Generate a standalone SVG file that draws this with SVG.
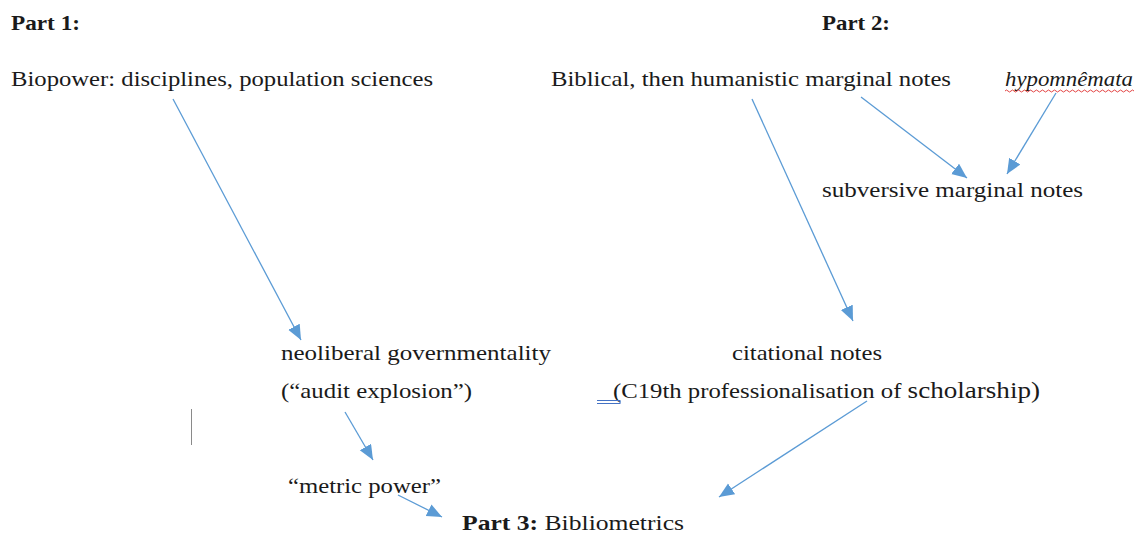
<svg xmlns="http://www.w3.org/2000/svg" width="1139" height="535" viewBox="0 0 1139 535">
<style>
text{font-family:"Liberation Serif","DejaVu Serif",serif;font-size:21px;fill:#1a1a1a}
.b{font-weight:bold}
.i{font-style:italic}
.con{stroke:#5b9bd5;stroke-width:1.3;fill:none}
</style>
<defs>
<marker id="ah" markerUnits="userSpaceOnUse" markerWidth="16" markerHeight="14" refX="15" refY="6.5" orient="auto">
<path d="M0,0 L15,6.5 L0,13 Z" fill="#5b9bd5"/>
</marker>
</defs>
<rect width="1139" height="535" fill="#ffffff"/>
<g id="part1"><text class="b" x="11" y="30" textLength="69" lengthAdjust="spacingAndGlyphs">Part 1:</text></g>
<g id="part2"><text class="b" x="822" y="30" textLength="68" lengthAdjust="spacingAndGlyphs">Part 2:</text></g>
<g id="biopower"><text x="11" y="86" textLength="422" lengthAdjust="spacingAndGlyphs">Biopower: disciplines, population sciences</text></g>
<g id="biblical"><text x="551" y="86" textLength="400" lengthAdjust="spacingAndGlyphs">Biblical, then humanistic marginal notes</text></g>
<g id="hypomnemata"><text class="i" x="1005" y="86" textLength="128" lengthAdjust="spacingAndGlyphs">hypomnêmata</text>
<path d="M1005,91 q1.5,-2 3,0 t3,0 t3,0 t3,0 t3,0 t3,0 t3,0 t3,0 t3,0 t3,0 t3,0 t3,0 t3,0 t3,0 t3,0 t3,0 t3,0 t3,0 t3,0 t3,0 t3,0 t3,0 t3,0 t3,0 t3,0 t3,0 t3,0 t3,0 t3,0 t3,0 t3,0 t3,0 t3,0 t3,0 t3,0 t3,0 t3,0 t3,0 t3,0 t3,0 t3,0 t3,0 t3,0" stroke="#e03030" stroke-width="0.9" fill="none"/></g>
<g id="subversive"><text x="822" y="197" textLength="261" lengthAdjust="spacingAndGlyphs">subversive marginal notes</text></g>
<g id="neoliberal"><text x="281" y="360" textLength="270" lengthAdjust="spacingAndGlyphs">neoliberal governmentality</text>
<text x="281" y="398" textLength="191" lengthAdjust="spacingAndGlyphs">(“audit explosion”)</text></g>
<g id="citational"><text x="732" y="360" textLength="150" lengthAdjust="spacingAndGlyphs">citational notes</text>
<text x="613" y="398" textLength="427" lengthAdjust="spacingAndGlyphs">(C19th professionalisation of <tspan style="font-size:23px">scholarship)</tspan></text>
<path d="M597,400.5 H620 M597,403.5 H620 M620,400 V404" stroke="#4472c4" stroke-width="1" fill="none"/></g>
<g id="metric"><text x="288" y="493" textLength="153" lengthAdjust="spacingAndGlyphs">“metric power”</text></g>
<g id="part3"><text x="462" y="530" textLength="222" lengthAdjust="spacingAndGlyphs"><tspan class="b">Part 3:</tspan> Bibliometrics</text></g>
<line x1="191.5" y1="409" x2="191.5" y2="445" stroke="#8a8a8a" stroke-width="1"/>
<g id="connectors">
<line class="con" x1="173" y1="99" x2="301" y2="340" marker-end="url(#ah)"/>
<line class="con" x1="752" y1="99" x2="853" y2="321" marker-end="url(#ah)"/>
<line class="con" x1="861" y1="97" x2="967" y2="178" marker-end="url(#ah)"/>
<line class="con" x1="1056" y1="93" x2="1007" y2="174" marker-end="url(#ah)"/>
<line class="con" x1="345" y1="412" x2="373" y2="460" marker-end="url(#ah)"/>
<line class="con" x1="867" y1="401" x2="719" y2="497" marker-end="url(#ah)"/>
<line class="con" x1="398" y1="495" x2="442" y2="517" marker-end="url(#ah)"/>
</g>
</svg>
